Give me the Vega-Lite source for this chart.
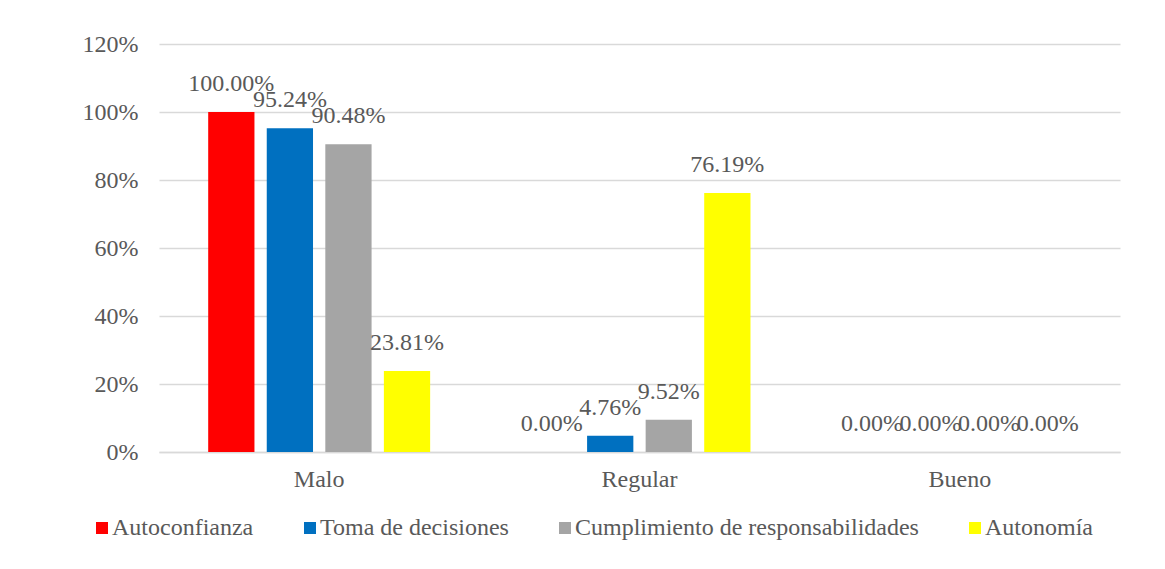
{
  "$schema": "https://vega.github.io/schema/vega-lite/v6.json",
  "width": 961,
  "height": 408,
  "autosize": {"type": "none"},
  "padding": {"left": 159, "top": 44, "right": 45, "bottom": 117},
  "background": "white",
  "config": {
    "font": "Liberation Serif",
    "view": {"stroke": null},
    "legend": {"orient": "none", "legendX": -69, "legendY": 472, "direction": "horizontal"}
  },
  "data": {
    "values": [
      {"nivel": "Malo", "dim": "Autoconfianza", "valor": 1.0},
      {"nivel": "Malo", "dim": "Toma de decisiones", "valor": 0.9524},
      {"nivel": "Malo", "dim": "Cumplimiento de responsabilidades", "valor": 0.9048},
      {"nivel": "Malo", "dim": "Autonomía", "valor": 0.2381},
      {"nivel": "Regular", "dim": "Autoconfianza", "valor": 0.0},
      {"nivel": "Regular", "dim": "Toma de decisiones", "valor": 0.0476},
      {"nivel": "Regular", "dim": "Cumplimiento de responsabilidades", "valor": 0.0952},
      {"nivel": "Regular", "dim": "Autonomía", "valor": 0.7619},
      {"nivel": "Bueno", "dim": "Autoconfianza", "valor": 0.0},
      {"nivel": "Bueno", "dim": "Toma de decisiones", "valor": 0.0},
      {"nivel": "Bueno", "dim": "Cumplimiento de responsabilidades", "valor": 0.0},
      {"nivel": "Bueno", "dim": "Autonomía", "valor": 0.0}
    ]
  },
  "encoding": {
    "x": {
      "field": "nivel", "type": "nominal", "sort": ["Malo", "Regular", "Bueno"],
      "scale": {"paddingInner": 0, "paddingOuter": 0},
      "axis": {"title": null, "labelAngle": 0, "labelFont": "Liberation Serif", "labelFontSize": 24, "labelColor": "#595959", "labelPadding": 15, "ticks": false, "domainColor": "#d9d9d9", "domainWidth": 1.5}
    },
    "xOffset": {
      "field": "dim", "type": "nominal",
      "sort": ["Autoconfianza", "Toma de decisiones", "Cumplimiento de responsabilidades", "Autonomía"],
      "scale": {"paddingInner": 0.21, "paddingOuter": 0.84}
    },
    "y": {
      "field": "valor", "type": "quantitative",
      "scale": {"domain": [0, 1.2], "nice": false},
      "axis": {"title": null, "format": ".0%", "values": [0, 0.2, 0.4, 0.6, 0.8, 1.0, 1.2], "labelFont": "Liberation Serif", "labelFontSize": 24, "labelColor": "#595959", "labelPadding": 21, "ticks": false, "domain": false, "gridColor": "#d9d9d9", "gridWidth": 1.5}
    }
  },
  "layer": [
    {
      "mark": {"type": "bar"},
      "encoding": {
        "color": {
          "field": "dim", "type": "nominal",
          "sort": ["Autoconfianza", "Toma de decisiones", "Cumplimiento de responsabilidades", "Autonomía"],
          "scale": {"domain": ["Autoconfianza", "Toma de decisiones", "Cumplimiento de responsabilidades", "Autonomía"], "range": ["#FF0000", "#0070C0", "#A5A5A5", "#FFFF00"]},
          "legend": {"title": null, "symbolType": "square", "symbolSize": 144, "symbolStrokeWidth": 0, "labelFont": "Liberation Serif", "labelFontSize": 24, "labelColor": "#595959", "labelOffset": -2, "columnPadding": 44, "labelLimit": 500}
        }
      }
    },
    {
      "mark": {"type": "text", "baseline": "bottom", "dy": -16, "font": "Liberation Serif", "fontSize": 24, "fill": "#595959"},
      "encoding": {
        "text": {"field": "valor", "type": "quantitative", "format": ".2%"}
      }
    }
  ]
}
